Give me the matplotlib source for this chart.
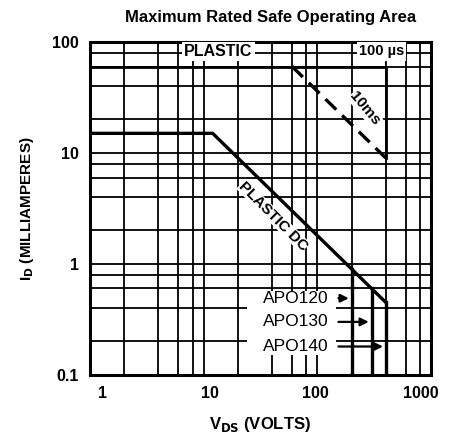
import numpy as np
import matplotlib
matplotlib.use('Agg')
import matplotlib.pyplot as plt
import matplotlib.transforms as mtransforms
from matplotlib.patches import Rectangle

plt.rcParams['font.family'] = ['Liberation Sans', 'DejaVu Sans']

# safe operating area boundaries (V, mA)
dc_v = [1, 12, 200, 300, 400]
dc_i = [15, 15, 0.9, 0.6, 0.45]

us100_v = [1, 400, 400]
us100_i = [60, 60, 9]

ms10_v = [60, 400]
ms10_i = [60, 9]

apo_names = ['APO120', 'APO130', 'APO140']
apo_v = [200, 300, 400]
apo_top = [0.9, 0.6, 0.45]
apo_y = [0.49, 0.30, 0.18]

x_ticks = [1, 10, 100, 1000]
x_ticklabels = ['1', '10', '100', '1000']
y_ticks = [0.1, 1, 10, 100]
y_ticklabels = ['0.1', '1', '10', '100']
grid_mult = [2, 4, 6, 8]

fig = plt.figure(figsize=(4.57, 4.41), dpi=100)
ax = fig.add_axes([0.197, 0.150, 0.746, 0.755])
ax.set_xscale('log')
ax.set_yscale('log')
ax.set_xlim(1, 1000)
ax.set_ylim(0.1, 100)

# grid
for d in [1, 10, 100]:
    for m in [1] + grid_mult:
        v = d * m
        if 1 < v < 1000:
            ax.axvline(v, color='black', lw=1.3, zorder=1)
for d in [0.1, 1, 10]:
    for m in [1] + grid_mult:
        v = d * m
        if 0.1 < v < 100:
            ax.axhline(v, color='black', lw=1.3, zorder=1)

# white panel behind the device labels
ax.add_patch(Rectangle((24, 0.15), 122, 0.42, facecolor='white',
                       edgecolor='none', zorder=2))

ax.plot(dc_v, dc_i, color='black', lw=2.4, zorder=3)
ax.plot(us100_v, us100_i, color='black', lw=2.0, zorder=3)
ax.plot(ms10_v, ms10_i, color='black', lw=2.4, dashes=(4.5, 2.5), zorder=3)
for v, top in zip(apo_v, apo_top):
    ax.plot([v, v], [0.1, top], color='black', lw=2.4, zorder=3)

tkw = dict(fontsize=11.5, fontweight='bold', color='black', zorder=4,
           bbox=dict(facecolor='white', edgecolor='none', pad=1.5))
ax.text(13.5, 82, 'PLASTIC', ha='center', va='center', **tkw)
tkw['fontsize'] = 10.5
ax.text(365, 82, '100 \u00b5s', ha='center', va='center', **tkw)
ax.text(262, 25, '10ms', ha='center', va='center', rotation=-50,
        fontsize=11, fontweight='bold', zorder=4,
        bbox=dict(facecolor='white', edgecolor='none', pad=0.3))
ax.text(41, 2.7, 'PLASTIC DC', ha='center', va='center', rotation=-45,
        fontsize=11, fontweight='bold', zorder=4,
        bbox=dict(facecolor='white', edgecolor='none', pad=0.0))

for name, v, y in zip(apo_names, apo_v, apo_y):
    ax.text(126, y, name, ha='right', va='center', fontsize=12.5, zorder=4)
    ax.annotate('', xy=(v, y), xytext=(145, y),
                arrowprops=dict(arrowstyle='-|>', color='black', lw=1.6,
                                mutation_scale=12), zorder=5)

ax.set_xticks(x_ticks)
ax.set_xticklabels(x_ticklabels)
ax.set_yticks(y_ticks)
ax.set_yticklabels(y_ticklabels)
ax.minorticks_off()
ax.tick_params(length=0, pad=8, labelsize=11.5)
for lab in ax.get_xticklabels() + ax.get_yticklabels():
    lab.set_fontweight('bold')
# printed labels sit a little off their grid lines
x_shift_px = [12, 6, -2, -10]
for lab, dx in zip(ax.get_xticklabels(), x_shift_px):
    lab.set_transform(lab.get_transform() +
                      mtransforms.ScaledTranslation(dx / 100, 0, fig.dpi_scale_trans))
for s in ax.spines.values():
    s.set_linewidth(2.2)

ax.set_xlabel('V$_{\\mathbf{DS}}$ (VOLTS)', fontsize=12, fontweight='bold', labelpad=10)
ax.set_ylabel('I$_{\\mathbf{D}}$ (MILLIAMPERES)', fontsize=11, fontweight='bold', labelpad=12)
fig.text(0.591, 0.961, 'Maximum Rated Safe Operating Area', ha='center', va='center',
         fontsize=12, fontweight='bold')

fig.savefig('out.png', dpi=100)
